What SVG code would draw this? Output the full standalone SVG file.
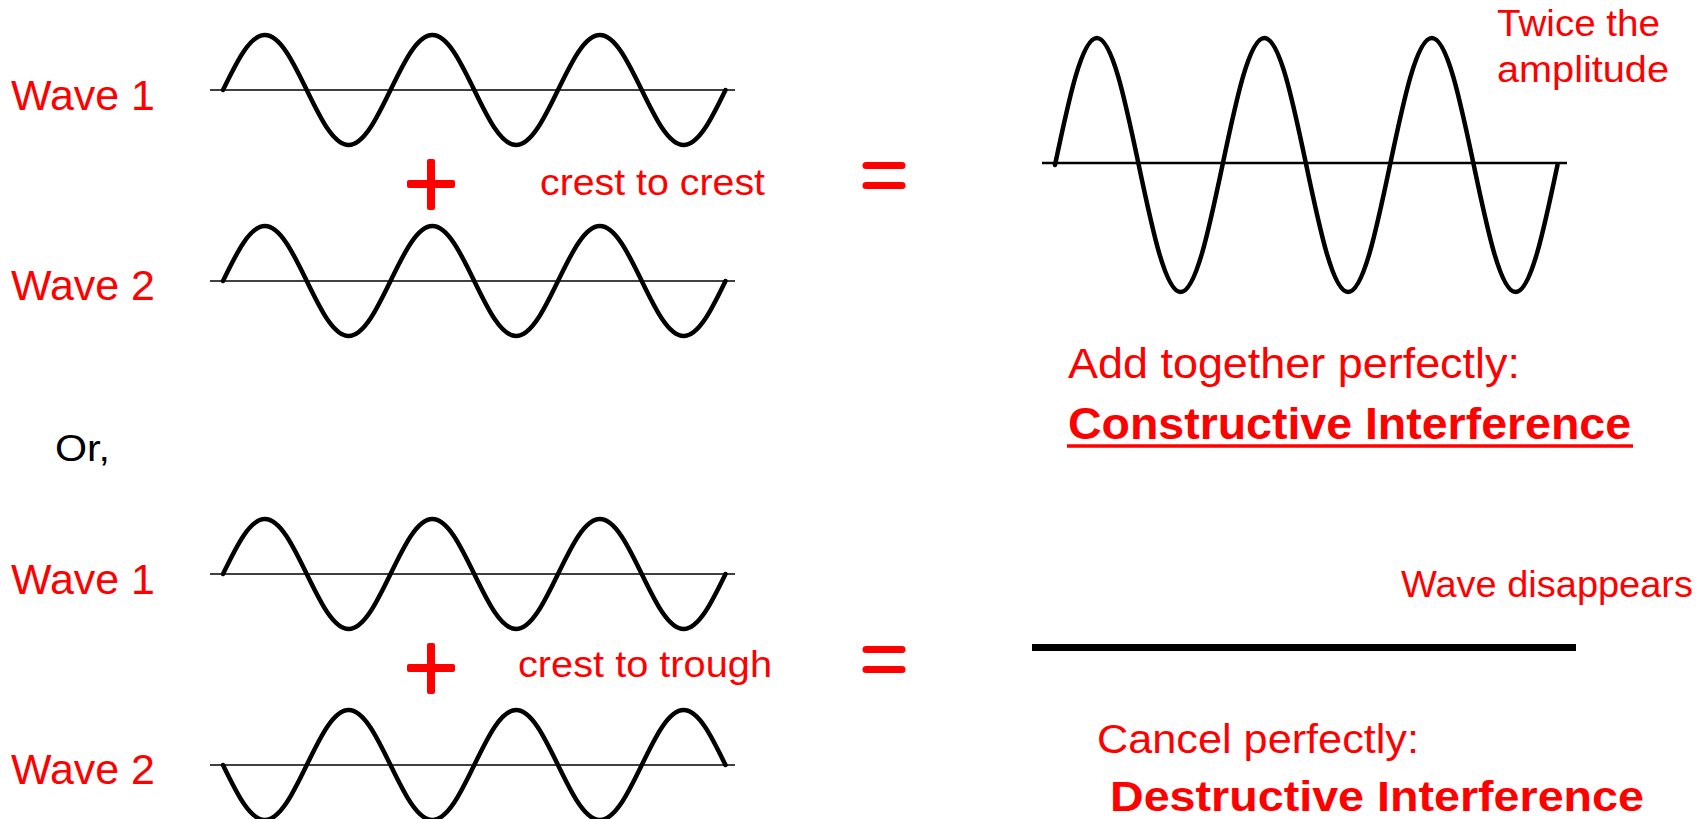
<svg xmlns="http://www.w3.org/2000/svg" xmlns:xlink="http://www.w3.org/1999/xlink" width="1708" height="819" viewBox="0 0 1708 819">
<style>
.lbl{font-family:"Liberation Sans",Arial,sans-serif;fill:#ff0000}
.blk{font-family:"Liberation Sans",Arial,sans-serif;fill:#000}
.bold{font-weight:bold}
.wave{fill:none;stroke:#000;stroke-width:4.5;stroke-linecap:round;stroke-linejoin:round}
.axis{stroke:#000;stroke-width:1.5}
.eq{stroke:#ff0000;stroke-width:7;stroke-linecap:round}
.plus{fill:#ff0000}
</style>
<defs>
<path id="sw" d="M0,0 c13.66,-28.18 26.72,-55 41.875,-55 s28.215,26.82 41.875,55 s26.72,55 41.875,55 s28.215,-26.82 41.875,-55 s26.72,-55 41.875,-55 s28.215,26.82 41.875,55 s26.72,55 41.875,55 s28.215,-26.82 41.875,-55 s26.72,-55 41.875,-55 s28.215,26.82 41.875,55 s26.72,55 41.875,55 s28.215,-26.82 41.875,-55"/>
<g id="plusSign">
<rect x="-24" y="-4" width="48" height="8" rx="2"/>
<rect x="-4" y="-25" width="8" height="51" rx="2"/>
</g>
</defs>
<rect width="1708" height="819" fill="#fff"/>

<g id="top-wave1">
<line class="axis" x1="210" y1="90" x2="735" y2="90"/>
<use xlink:href="#sw" href="#sw" class="wave" transform="translate(223,90)"/>
<text class="lbl" x="11" y="110" font-size="42" textLength="144" lengthAdjust="spacingAndGlyphs">Wave 1</text>
</g>
<g id="top-wave2">
<line class="axis" x1="210" y1="281" x2="735" y2="281"/>
<use xlink:href="#sw" href="#sw" class="wave" transform="translate(223,281)"/>
<text class="lbl" x="11" y="300" font-size="42" textLength="144" lengthAdjust="spacingAndGlyphs">Wave 2</text>
</g>
<g id="top-plus" class="plus">
<use xlink:href="#plusSign" href="#plusSign" transform="translate(431,184)"/>
</g>
<g id="top-note">
<text class="lbl" x="540" y="195" font-size="37" textLength="225" lengthAdjust="spacingAndGlyphs">crest to crest</text>
</g>
<g id="top-equals">
<line class="eq" x1="866" y1="165.5" x2="902" y2="165.5"/>
<line class="eq" x1="866" y1="185.5" x2="902" y2="185.5"/>
</g>
<g id="constructive-result">
<line x1="1042" y1="163" x2="1567" y2="163" stroke="#000" stroke-width="2.5"/>
<path class="wave" stroke-width="5.5" d="M1055,165 c13.66,-65.06 26.72,-127 41.875,-127 s28.215,61.94 41.875,127 s26.72,127 41.875,127 s28.215,-61.94 41.875,-127 s26.72,-127 41.875,-127 s28.215,61.94 41.875,127 s26.72,127 41.875,127 s28.215,-61.94 41.875,-127 s26.72,-127 41.875,-127 s28.215,61.94 41.875,127 s26.72,127 41.875,127 s28.215,-61.94 41.875,-127"/>
<text class="lbl" x="1497" y="36" font-size="37" textLength="163" lengthAdjust="spacingAndGlyphs">Twice the</text>
<text class="lbl" x="1497" y="82" font-size="37" textLength="172" lengthAdjust="spacingAndGlyphs">amplitude</text>
</g>
<g id="constructive-caption">
<text class="lbl" x="1068" y="378" font-size="42" textLength="452" lengthAdjust="spacingAndGlyphs">Add together perfectly:</text>
<text class="lbl bold" x="1068" y="439" font-size="44" textLength="563" lengthAdjust="spacingAndGlyphs">Constructive Interference</text>
<line x1="1067" y1="446" x2="1633" y2="446" stroke="#ff0000" stroke-width="3.5"/>
</g>

<g id="or-label">
<text class="blk" x="55" y="461" font-size="37" textLength="55" lengthAdjust="spacingAndGlyphs">Or,</text>
</g>

<g id="bottom-wave1">
<line class="axis" x1="210" y1="574" x2="735" y2="574"/>
<use xlink:href="#sw" href="#sw" class="wave" transform="translate(223,574)"/>
<text class="lbl" x="11" y="594" font-size="42" textLength="144" lengthAdjust="spacingAndGlyphs">Wave 1</text>
</g>
<g id="bottom-wave2">
<line class="axis" x1="210" y1="765" x2="735" y2="765"/>
<use xlink:href="#sw" href="#sw" class="wave" transform="translate(223,765) scale(1,-1)"/>
<text class="lbl" x="11" y="784" font-size="42" textLength="144" lengthAdjust="spacingAndGlyphs">Wave 2</text>
</g>
<g id="bottom-plus" class="plus">
<use xlink:href="#plusSign" href="#plusSign" transform="translate(431,668)"/>
</g>
<g id="bottom-note">
<text class="lbl" x="518" y="677" font-size="37" textLength="254" lengthAdjust="spacingAndGlyphs">crest to trough</text>
</g>
<g id="bottom-equals">
<line class="eq" x1="866" y1="649.5" x2="902" y2="649.5"/>
<line class="eq" x1="866" y1="669.5" x2="902" y2="669.5"/>
</g>
<g id="destructive-result">
<rect x="1032" y="644" width="544" height="7" fill="#000"/>
<text class="lbl" x="1401" y="597" font-size="36" textLength="292" lengthAdjust="spacingAndGlyphs">Wave disappears</text>
</g>
<g id="destructive-caption">
<text class="lbl" x="1097" y="753" font-size="41" textLength="322" lengthAdjust="spacingAndGlyphs">Cancel perfectly:</text>
<text class="lbl bold" x="1110" y="811" font-size="42" textLength="534" lengthAdjust="spacingAndGlyphs">Destructive Interference</text>
</g>
</svg>
